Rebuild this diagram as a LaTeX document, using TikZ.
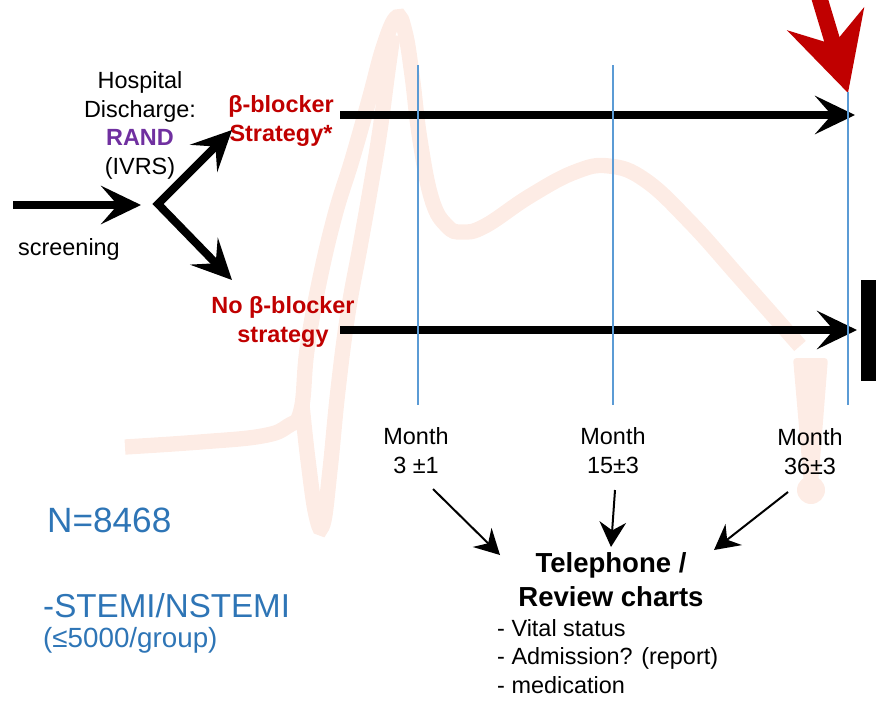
\documentclass[tikz,border=0pt]{standalone}
\usepackage{fontspec}
\setmainfont{Liberation Sans}
\usetikzlibrary{arrows.meta}

\definecolor{ecgpink}{RGB}{253,236,229}
\definecolor{gridblue}{RGB}{91,155,213}
\definecolor{armred}{RGB}{192,0,0}
\definecolor{randpurple}{RGB}{112,48,160}
\definecolor{infoblue}{RGB}{46,117,182}

\tikzset{
  bigtip/.tip={Stealth[length=12mm, width=11.5mm, inset=5mm]},
  smalltip/.tip={Stealth[length=7.5mm, width=8mm, inset=2.5mm]},
  redtip/.tip={Stealth[length=23mm, width=23.7mm, inset=7.8mm]},
  fat/.style={line width=2.4mm},
  slim/.style={line width=0.6mm, -{smalltip}},
  ecg/.style={ecgpink, line width=4.6mm},
  txt/.style={font=\fontsize{20}{24.5}\selectfont, align=center, inner sep=0pt},
  arm/.style={txt, text=armred, font=\fontsize{20}{24}\selectfont\bfseries},
  info/.style={text=infoblue, inner sep=0pt, anchor=base west}
}

\begin{document}
\begin{tikzpicture}[x=0.3mm, y=-0.3mm, line join=miter]
    \useasboundingbox (0,0) rectangle (888,700);
    \clip (0,0) rectangle (888,700);

    % faint ECG trace in the background
    \draw[ecg] plot[smooth, tension=0.7] coordinates {(125,447) (200,442) (262,436) (288,426) (301,410) (307,350) (319,283) (335,215) (352,160) (369,100) (384,45) (397,17) (405,32) (412,75) (420,140) (432,200) (447,226) (462,232) (485,226) (530,196) (575,172) (609,166) (645,180) (690,222) (740,278) (800,346)};
    \draw[ecg] plot[smooth, tension=0.7] coordinates {(302,405) (308,460) (316,515) (323,524) (330,470) (338,390) (348,313) (360,247) (371,185) (380,130) (388,70) (393,35)};
    \fill[ecgpink, rounded corners=3] (793,358) -- (828,358) -- (818,485) -- (804,485) -- cycle;
    \fill[ecgpink] (811,490) circle (14);

    % randomisation labels
    \node[txt] (hosp) at (140,125.5) {Hospital\\Discharge:\\\textcolor{randpurple}{\textbf{RAND}}\\(IVRS)};
    \node[txt, anchor=base] (scr) at (69,255) {screening};
    \node[arm] (bb) at (281,121) {β-blocker\\Strategy*};
    \node[arm] (nobb) at (283,322) {No β-blocker\\strategy};

    % arrow end points
    \coordinate (scrA) at (13,205);
    \coordinate (scrB) at (141,205);
    \coordinate (split) at (158,204);
    \coordinate (upTip) at (232,130);
    \coordinate (dnTip) at (232,280);
    \coordinate (bbA) at (340,115);
    \coordinate (bbB) at (855,115);
    \coordinate (nbA) at (340,330);
    \coordinate (nbB) at (857,330);

    % screening and the two strategies
    \draw[fat, -{bigtip}] (scrA) -- (scrB);
    \draw[fat, {bigtip}-{bigtip}] (upTip) -- (split) -- (dnTip);
    \draw[fat, -{bigtip}] (bbA) -- (bbB);
    \draw[fat, -{bigtip}] (nbA) -- (nbB);
    \fill (861,280) rectangle (876,381);

    % red arrow at the end of follow-up
    \coordinate (redA) at (814,-20);
    \coordinate (redB) at (848,93);
    \draw[armred, line width=4.8mm, -{redtip}] (redA) -- (redB);

    % follow-up time lines
    \foreach \x/\t in {418/65, 613/65, 848/92}
        \draw[gridblue, line width=0.4mm] (\x,\t) -- (\x,405);

    % months
    \node[txt] (m3) at (416,450.5) {Month\\3 ±1};
    \node[txt] (m15) at (613,450.5) {Month\\15±3};
    \node[txt] (m36) at (810,451.5) {Month\\36±3};

    % contact at each visit
    \node[txt, font=\fontsize{23.5}{29}\selectfont\bfseries] (tel) at (611,580) {Telephone /\\Review charts};
    \node[txt, align=left, anchor=west] (chk) at (497,656.5) {- Vital status\\- Admission? (report)\\- medication};

    \coordinate (f3) at (433,489);
    \coordinate (f15) at (615,490);
    \coordinate (f36) at (788,492);
    \coordinate (t3) at (500,555);
    \coordinate (t15) at (611,547);
    \coordinate (t36) at (714,550);
    \draw[slim] (f3) -- (t3);
    \draw[slim] (f15) -- (t15);
    \draw[slim] (f36) -- (t36);

    % trial size
    \node[info, font=\fontsize{30}{30}\selectfont] (ntot) at (47,532) {N=8468};
    \node[info, font=\fontsize{28.3}{30}\selectfont] (stemi) at (43,617) {-STEMI/NSTEMI};
    \node[info, font=\fontsize{23.7}{26}\selectfont] (pergrp) at (43,647) {(≤5000/group)};
\end{tikzpicture}
\end{document}
